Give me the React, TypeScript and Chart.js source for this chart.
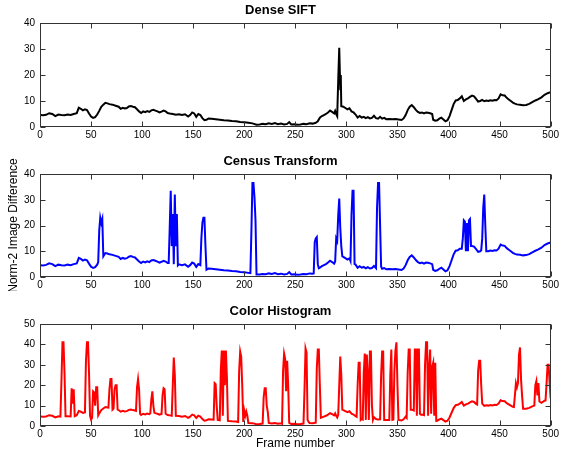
import React, { useEffect, useRef } from 'react';
import { Chart, registerables } from 'chart.js';

Chart.register(...registerables);

type Pt = [number, number];

const FONT = '"Liberation Sans", Arial, Helvetica, sans-serif';

const xTickStep = 50;
const frameRange: [number, number] = [0, 500];
const siftYMax = 40;
const censusYMax = 40;
const colorYMax = 50;

const titles = ['Dense SIFT', 'Census Transform', 'Color Histogram'];
const yAxisLabel = 'Norm-2 Image Difference';
const xAxisLabel = 'Frame number';

// Dense SIFT curve (also the shared baseline of the other two measures)
const siftCurve: Pt[] = [
  [0, 4.6], [3, 4.5], [6, 4.7], [9, 5.3], [12, 5.0], [15, 4.2], [18, 4.8], [21, 4.6], [24, 4.5], [27, 4.8],
  [30, 4.6], [33, 5.0], [36, 5.3], [38, 7.4], [40, 7.0], [42, 6.4], [44, 6.8], [46, 6.5], [48, 5.2], [50, 4.0],
  [52, 3.5], [54, 3.8], [56, 4.8], [58, 6.2], [60, 7.8], [62, 8.6], [64, 9.3], [66, 9.1], [68, 8.8], [71, 8.6],
  [74, 8.2], [77, 7.8], [79, 7.0], [81, 7.4], [83, 7.1], [85, 7.3], [87, 7.9], [89, 8.1], [91, 7.8], [93, 7.6],
  [95, 6.8], [97, 6.0], [99, 5.4], [101, 6.0], [103, 5.7], [105, 6.1], [107, 5.8], [109, 6.4], [111, 6.6], [113, 6.3],
  [115, 6.0], [117, 5.6], [119, 5.9], [121, 6.3], [123, 6.0], [125, 5.4], [127, 5.2], [130, 5.0], [133, 4.7], [136, 4.9],
  [139, 4.6], [142, 4.9], [145, 4.0], [147, 4.6], [149, 5.6], [151, 5.2], [153, 3.9], [155, 5.0], [157, 4.6], [159, 3.4],
  [161, 2.6], [163, 2.8], [165, 3.3], [168, 3.2], [172, 3.0], [176, 2.8], [180, 2.6], [184, 2.5], [188, 2.3], [192, 2.2],
  [196, 1.9], [200, 1.8], [204, 1.6], [208, 1.4], [212, 0.9], [215, 1.0], [218, 1.2], [221, 1.1], [224, 1.4], [227, 1.2],
  [230, 1.5], [233, 1.1], [236, 1.3], [239, 1.0], [242, 1.2], [244, 1.9], [246, 1.0], [249, 1.1], [252, 0.9], [255, 1.0],
  [258, 1.2], [261, 1.1], [264, 1.4], [267, 1.3], [270, 1.6], [272, 2.2], [274, 3.6], [276, 4.2], [278, 4.6], [280, 5.0],
  [282, 5.6], [284, 6.3], [286, 5.8], [288, 5.2], [289, 6.2], [290, 5.0], [291, 4.2], [292, 18.0], [293, 30.5], [294, 14.5],
  [294.5, 20.0], [295, 8.0], [297, 7.8], [299, 7.3], [301, 6.8], [303, 7.2], [305, 6.0], [307, 5.6], [309, 4.8], [311, 3.6],
  [313, 4.2], [315, 3.6], [317, 3.9], [319, 3.4], [321, 3.8], [323, 3.3], [325, 3.5], [327, 4.3], [329, 3.4], [331, 3.2],
  [333, 3.9], [335, 3.2], [337, 3.5], [339, 3.0], [342, 3.1], [345, 3.0], [348, 3.1], [351, 2.9], [354, 2.7], [356, 3.3],
  [358, 4.6], [360, 6.5], [362, 7.8], [364, 8.4], [366, 7.6], [368, 6.6], [370, 5.8], [372, 5.4], [374, 5.6], [376, 5.2],
  [378, 5.6], [380, 5.5], [382, 5.3], [384, 5.0], [385, 2.8], [387, 2.4], [389, 2.6], [391, 3.2], [393, 3.6], [395, 2.9],
  [397, 2.2], [399, 2.6], [401, 4.2], [403, 6.5], [405, 8.8], [407, 10.2], [409, 10.4], [411, 11.0], [413, 11.8], [415, 10.0],
  [417, 10.6], [419, 11.0], [421, 11.6], [423, 12.1], [425, 11.8], [427, 10.8], [429, 9.8], [431, 10.0], [433, 10.4], [435, 9.9],
  [437, 10.2], [439, 10.0], [441, 10.3], [443, 10.1], [445, 10.4], [447, 10.3], [449, 11.0], [451, 12.6], [453, 12.2], [455, 12.1],
  [457, 11.2], [459, 10.6], [461, 10.0], [463, 9.4], [465, 9.0], [467, 8.7], [470, 8.6], [473, 8.4], [476, 8.5], [479, 8.9],
  [482, 9.6], [485, 10.2], [488, 10.7], [491, 11.4], [494, 12.4], [497, 13.0], [500, 13.4],
];

// Census Transform: spike frames that replace the baseline
const censusSpikes: Pt[] = [
  [57, 5.8], [58, 18], [59, 23], [60, 21], [61, 22.5], [62, 8.0],
  [126, 5.4], [127, 19], [128, 33.5], [129, 12], [130, 24.5], [131, 5], [132, 32], [133, 12], [134, 24.5], [135, 4.5],
  [157, 4.6], [158, 15], [159, 21], [160, 23], [161, 23], [162, 12], [163, 2.8],
  [206, 1.5], [207, 18], [208, 36.5], [209, 36.5], [210, 31], [211, 22], [212, 1.0],
  [268, 1.4], [269, 13.5], [270, 15], [271, 15.5], [272, 5], [273, 3.4],
  [289, 6.0], [290, 15], [291, 14], [292, 24], [293, 30.5], [294, 19], [295, 12], [296, 8],
  [304, 6.2], [305, 24], [306, 33.5], [307, 33.5], [308, 5.0],
  [329, 3.4], [330, 27], [331, 36.5], [332, 36.5], [333, 20], [334, 4.0],
  [413, 11.0], [414, 15], [415, 22], [416, 21.5], [417, 10], [418, 21], [419, 10], [420, 22], [421, 22.5], [422, 12], [423, 12],
  [432, 10.4], [433, 15], [434, 27], [435, 32], [436, 20], [437, 10],
];

// Color Histogram: spike frames that replace the baseline
const colorSpikes: Pt[] = [
  [20, 4.6], [21, 22], [22, 41], [23, 41], [24, 26], [25, 4.8],
  [30, 4.7], [31, 18.5], [32, 11], [33, 18], [34, 4.8],
  [44, 6.6], [45, 32], [46, 41], [47, 41], [48, 26], [49, 5.0], [50, 3.2],
  [51, 4.0], [52, 17], [53, 16.5], [54, 10], [55, 19], [56, 19], [57, 5.2],
  [67, 9.0], [68, 18], [69, 23], [70, 23], [71, 8],
  [72, 8.5], [73, 18], [74, 20], [75, 20], [76, 8],
  [94, 7.4], [95, 19], [96, 23], [97, 18], [98, 6],
  [108, 6.2], [109, 13], [110, 17], [111, 10], [112, 6.5],
  [119, 5.9], [120, 15], [121, 18.5], [122, 18], [123, 6],
  [129, 5.0], [130, 20], [131, 33.5], [132, 25], [133, 5],
  [170, 3.1], [171, 21], [172, 20.5], [173, 10], [174, 3],
  [176, 2.8], [177, 27], [178, 37], [179, 5], [180, 37], [181, 20], [182, 37], [183, 24], [184, 2.5],
  [194, 2.0], [195, 27], [196, 36.5], [197, 34], [198, 20], [199, 2], [200, 7.5], [201, 5], [202, 7], [203, 5], [204, 1.5],
  [218, 1.2], [219, 14], [220, 18.5], [221, 18.5], [222, 10], [223, 7], [224, 1.5],
  [237, 1.1], [238, 27], [239, 35.5], [240, 33], [241, 17], [242, 32], [243, 20], [244, 1.5],
  [258, 1.2], [259, 18], [260, 38], [261, 36], [262, 3], [263, 2],
  [270, 1.6], [271, 28], [272, 37.5], [273, 37.5], [274, 20], [275, 4],
  [292, 5.5], [293, 20], [294, 34], [295, 25], [296, 8],
  [310, 4.5], [311, 20], [312, 31], [313, 31], [314, 3], [315, 3.5],
  [316, 3.2], [317, 26], [318, 35.5], [319, 3], [320, 35], [321, 25], [322, 3], [323, 36.5], [324, 36.5], [325, 10], [326, 3],
  [333, 3.3], [334, 25], [335, 36.5], [336, 36.5], [337, 3],
  [342, 3.0], [343, 25], [344, 37.5], [345, 3], [346, 3.2], [347, 27], [348, 37], [349, 41], [350, 20], [351, 3],
  [359, 4.0], [360, 26], [361, 37.5], [362, 37.5], [363, 8], [364, 8],
  [366, 7.6], [367, 37.5], [368, 37.5], [369, 5], [370, 37.5], [371, 37.5], [372, 6], [373, 5.5],
  [376, 5.3], [377, 30], [378, 41], [379, 41], [380, 5], [381, 28], [382, 37.5], [383, 6], [384, 29], [385, 31], [386, 5], [387, 31], [388, 2.5],
  [428, 10.5], [429, 27], [430, 32], [431, 32], [432, 20], [433, 11],
  [464, 9.3], [465, 15], [466, 21], [467, 19], [468, 21], [469, 35], [470, 38.5], [471, 23], [472, 15], [473, 8.5],
  [484, 10.0], [485, 20], [486, 22], [487, 15], [488, 21], [489, 12],
  [495, 12.5], [496, 21], [497, 30], [498, 30], [499, 21], [500, 13.5],
];

function mergeSpikes(base: Pt[], spikes: Pt[]) {
  const kept = base.filter(([bx]) => !spikes.some(([sx]) => Math.abs(sx - bx) < 1));
  return [...kept, ...spikes].sort((a, b) => a[0] - b[0]).map(([x, y]) => ({ x, y }));
}

const boxPlugin = {
  id: 'matlabBox',
  afterDatasetsDraw(chart: any) {
    const { ctx, chartArea, scales } = chart;
    const { left, right, top, bottom } = chartArea;
    const xs = scales.x;
    const ys = scales.y;
    ctx.save();
    ctx.strokeStyle = '#333333';
    ctx.lineWidth = 1;
    const L = Math.round(left) + 0.5;
    const R = Math.round(right) - 0.5;
    const T = Math.round(top) + 0.5;
    const B = Math.round(bottom) - 0.5;
    ctx.strokeRect(L, T, R - L, B - T);
    ctx.beginPath();
    const tl = 5;
    xs.ticks.forEach((t: any) => {
      const px = Math.round(xs.getPixelForValue(t.value)) + 0.5;
      ctx.moveTo(px, T); ctx.lineTo(px, T + tl);
      ctx.moveTo(px, B); ctx.lineTo(px, B - tl);
    });
    ys.ticks.forEach((t: any) => {
      const py = Math.round(ys.getPixelForValue(t.value)) + 0.5;
      ctx.moveTo(L, py); ctx.lineTo(L + tl, py);
      ctx.moveTo(R, py); ctx.lineTo(R - tl, py);
    });
    ctx.stroke();
    ctx.restore();
  },
};

interface PanelProps {
  top: number;
  height: number;
  title: string;
  color: string;
  data: { x: number; y: number }[];
  yMax: number;
  yTitle?: string;
  xTitle?: string;
  xAxisHeight: number;
}

function Panel({ top, height, title, color, data, yMax, yTitle, xTitle, xAxisHeight }: PanelProps) {
  const ref = useRef<HTMLCanvasElement>(null);
  useEffect(() => {
    const chart = new Chart(ref.current!, {
      type: 'line',
      data: {
        datasets: [
          {
            data,
            borderColor: color,
            backgroundColor: color,
            borderWidth: 2,
            pointRadius: 0,
            tension: 0,
            fill: false,
          },
        ],
      },
      options: {
        animation: false,
        responsive: false,
        parsing: false as any,
        layout: { padding: { left: 0, right: 0, top: 0, bottom: 0 } },
        plugins: {
          legend: { display: false },
          tooltip: { enabled: false },
          title: {
            display: true,
            text: title,
            color: '#000',
            font: { family: FONT, size: 13, weight: 'bold' },
            padding: { top: 3, bottom: 4.4 },
          },
        },
        scales: {
          x: {
            type: 'linear',
            min: frameRange[0],
            max: frameRange[1],
            grid: { display: false, drawTicks: false },
            border: { display: false },
            ticks: {
              stepSize: xTickStep,
              autoSkip: false,
              maxRotation: 0,
              padding: 2,
              color: '#000',
              font: { family: FONT, size: 10 },
            },
            title: xTitle
              ? { display: true, text: xTitle, color: '#000', font: { family: FONT, size: 12 }, padding: { top: 0, bottom: 1 } }
              : { display: false },
            afterFit: (s: any) => {
              s.height = xAxisHeight;
            },
          },
          y: {
            type: 'linear',
            min: 0,
            max: yMax,
            grid: { display: false, drawTicks: false },
            border: { display: false },
            ticks: {
              stepSize: 10,
              padding: 5,
              color: '#000',
              font: { family: FONT, size: 10 },
            },
            title: yTitle
              ? { display: true, text: yTitle, color: '#000', font: { family: FONT, size: 12 }, padding: { top: 6.8, bottom: 0 } }
              : { display: false },
            afterFit: (s: any) => {
              s.width = 40;
            },
          },
        },
      } as any,
      plugins: [boxPlugin],
    });
    return () => chart.destroy();
  }, []);
  return (
    <canvas
      ref={ref}
      width={561}
      height={height}
      style={{ position: 'absolute', left: 0, top, width: 561, height }}
    />
  );
}

export default function App() {
  const siftData = siftCurve.map(([x, y]) => ({ x, y }));
  const censusData = mergeSpikes(siftCurve, censusSpikes);
  const colorData = mergeSpikes(siftCurve, colorSpikes);
  return (
    <div style={{ position: 'fixed', left: 0, top: 0, width: 561, height: 452, background: '#fff', overflow: 'hidden' }}>
      <Panel top={0} height={141} title={titles[0]} color="#000000" data={siftData} yMax={siftYMax} xAxisHeight={14} />
      <Panel
        top={151}
        height={140}
        title={titles[1]}
        color="#0000ff"
        data={censusData}
        yMax={censusYMax}
        yTitle={yAxisLabel}
        xAxisHeight={14}
      />
      <Panel
        top={301}
        height={151}
        title={titles[2]}
        color="#ff0000"
        data={colorData}
        yMax={colorYMax}
        xTitle={xAxisLabel}
        xAxisHeight={26}
      />
    </div>
  );
}
